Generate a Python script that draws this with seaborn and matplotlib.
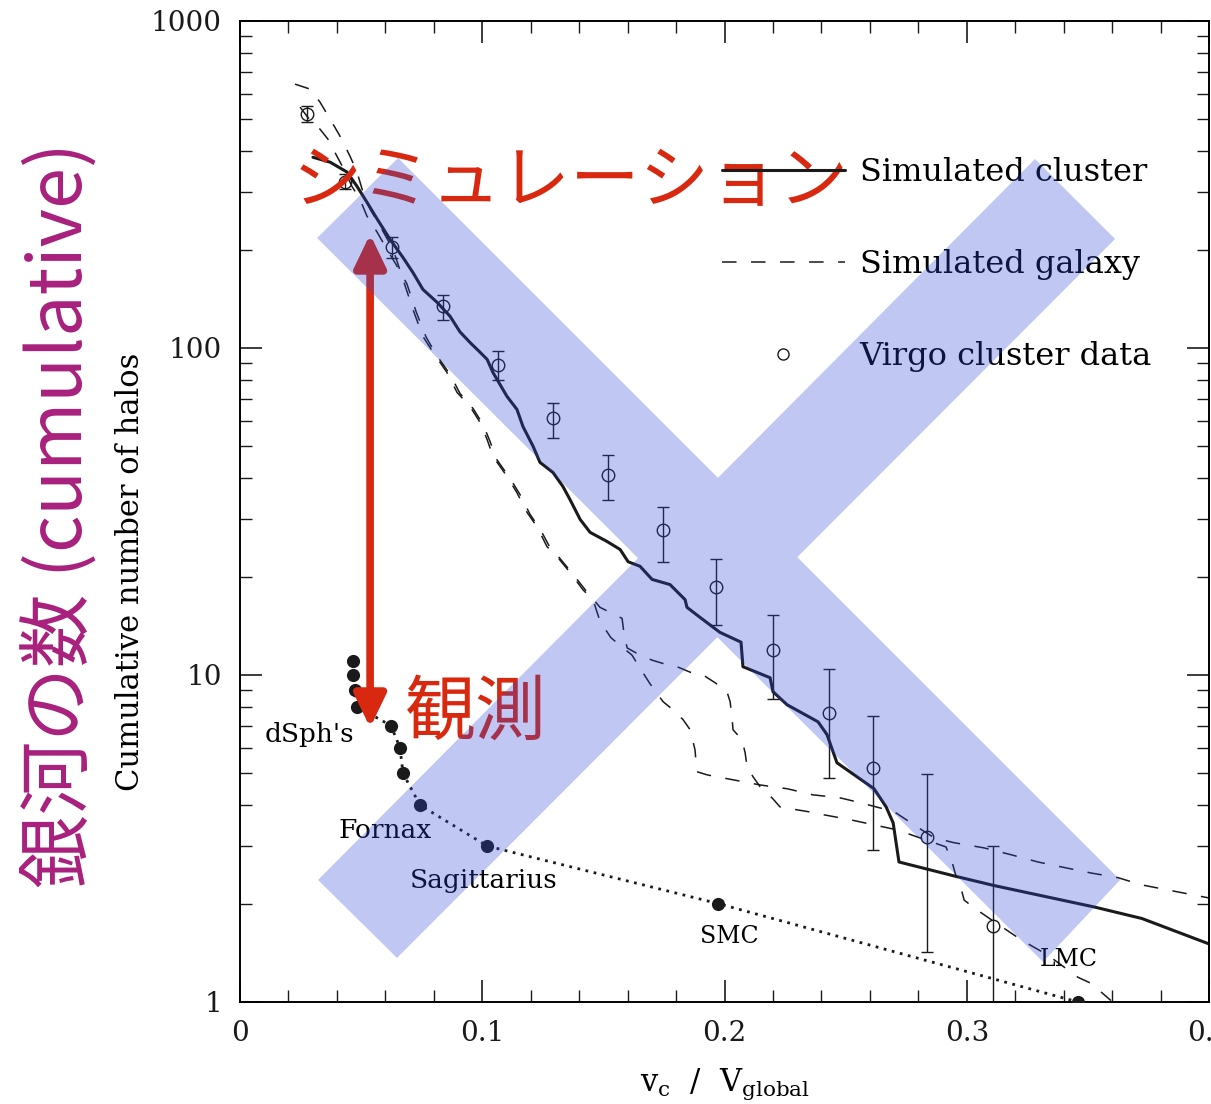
import matplotlib
matplotlib.use("Agg")
import matplotlib.pyplot as plt
import seaborn as sns
from matplotlib.lines import Line2D
from matplotlib.path import Path
from matplotlib.patches import PathPatch
from matplotlib.ticker import LogLocator, MultipleLocator, NullFormatter

# simulated cluster (solid curve), x = v_c / V_global, n = cumulative number
cluster_x = [0.0301, 0.0372, 0.0442, 0.0483, 0.0524, 0.0566, 0.0619, 0.0673, 0.0714, 0.0755,
             0.0813, 0.0867, 0.0908, 0.0949, 0.0991, 0.1020, 0.1044, 0.1102, 0.1143, 0.1168,
             0.1210, 0.1238, 0.1292, 0.1333, 0.1362, 0.1404, 0.1445, 0.1515, 0.1569, 0.1602,
             0.1651, 0.1701, 0.1775, 0.1837, 0.1845, 0.1899, 0.1981, 0.2068, 0.2076, 0.2188,
             0.2200, 0.2258, 0.2386, 0.2423, 0.2464, 0.2617, 0.2667, 0.2696, 0.2720, 0.2947,
             0.3113, 0.3529, 0.3723, 0.40]
cluster_n = [383, 370, 345, 312, 279, 248, 215, 189, 170, 151,
             138, 125, 112, 104, 97, 92.3, 84.2, 71.1, 64.9, 57.5,
             50.0, 44.7, 41.6, 37.7, 34.4, 29.9, 27.3, 25.6, 24.2, 22.2,
             21.5, 19.6, 18.9, 17.0, 16.1, 15.0, 13.5, 12.6, 10.6, 9.81,
             8.89, 8.11, 7.19, 6.57, 5.39, 4.49, 3.95, 3.53, 2.68, 2.43,
             2.27, 1.95, 1.80, 1.505]

# simulated galaxies (dashed curves)
galaxy1_x = [0.0227, 0.0289, 0.0330, 0.0372, 0.0413, 0.0454, 0.0483, 0.0508, 0.0537, 0.0578,
             0.0632, 0.0673, 0.0714, 0.0755, 0.0797, 0.0854, 0.0896, 0.0949, 0.0991, 0.1020,
             0.1044, 0.1102, 0.1143, 0.1185, 0.1226, 0.1267, 0.1309, 0.1362, 0.1416, 0.1457,
             0.1486, 0.1531, 0.1618, 0.1651, 0.1692, 0.1746, 0.1787, 0.1829, 0.1858, 0.1878,
             0.1886, 0.1928, 0.2035, 0.2147, 0.2258, 0.2365, 0.2477, 0.2559, 0.2700, 0.2795,
             0.2865, 0.2947, 0.3071, 0.3183, 0.3294, 0.3389, 0.3513, 0.3624, 0.3723, 0.3831, 0.40]
galaxy1_n = [641, 619, 565, 501, 444, 386, 345, 299, 266, 236,
             200, 162, 131, 108.5, 97.0, 84.2, 73.1, 66.3, 59.2, 52.5,
             46.6, 40.5, 36.1, 31.4, 28.4, 24.7, 23.0, 20.6, 18.2, 17.0,
             14.6, 13.0, 11.5, 10.5, 9.41, 8.29, 7.83, 7.30, 6.80, 5.91,
             5.06, 4.95, 4.78, 4.61, 4.49, 4.30, 4.21, 4.07, 3.82, 3.43,
             3.18, 3.07, 2.96, 2.82, 2.68, 2.59, 2.48, 2.40, 2.28, 2.20, 2.08]

galaxy2_x = [0.0248, 0.0301, 0.0330, 0.0363, 0.0400, 0.0433, 0.0462, 0.0495, 0.0524, 0.0566,
             0.0607, 0.0648, 0.0689, 0.0727, 0.0768, 0.0809, 0.0867, 0.0908, 0.0962, 0.1003,
             0.1032, 0.1057, 0.1115, 0.1156, 0.1197, 0.1238, 0.1280, 0.1321, 0.1375, 0.1428,
             0.1465, 0.1486, 0.1577, 0.1585, 0.1598, 0.1651, 0.1701, 0.1754, 0.1804, 0.1858,
             0.1911, 0.1961, 0.2010, 0.2023, 0.2031, 0.2035, 0.2072, 0.2085, 0.2093, 0.2118,
             0.2147, 0.2196, 0.2229, 0.2299, 0.2345, 0.2407, 0.2518, 0.2617, 0.2712, 0.2914,
             0.2939, 0.2960, 0.2976, 0.2989, 0.3030, 0.3113, 0.3224, 0.3335, 0.3459, 0.3513, 0.3595]
galaxy2_n = [545, 484, 467, 435, 386, 347, 312, 285, 253, 226,
             200, 178, 157, 129, 108, 95.6, 83.0, 72.6, 65.3, 58.4,
             51.8, 45.9, 39.9, 35.6, 31.0, 28.0, 24.5, 22.7, 20.3, 18.1,
             16.8, 16.1, 14.9, 13.4, 12.1, 11.5, 11.1, 10.8, 10.6, 10.2,
             10.0, 9.47, 8.89, 8.29, 7.40, 6.80, 6.34, 5.78, 5.24, 4.88,
             4.55, 4.21, 3.95, 3.87, 3.82, 3.74, 3.61, 3.48, 3.36, 2.98,
             2.68, 2.36, 2.23, 2.05, 1.94, 1.76, 1.55, 1.39, 1.19, 1.14, 1.01]

# Virgo cluster data with error bars
virgo_x = [0.0277, 0.0433, 0.0627, 0.0838, 0.1065, 0.1292, 0.1519,
           0.1746, 0.1965, 0.2200, 0.2431, 0.2613, 0.2836, 0.3108]
virgo_n = [519, 321, 203, 134, 89, 61, 41, 27.7, 18.6, 11.9, 7.67, 5.2, 3.2, 1.71]
virgo_lo = [490, 306, 189, 122, 79.6, 52.9, 34.4, 22.2, 14.2, 8.46, 4.85, 2.92, 1.42, 0.5]
virgo_hi = [550, 340, 218, 145, 98, 68, 47.2, 32.7, 22.7, 15.3, 10.4, 7.5, 4.99, 3.0]

# Local Group satellites (observed)
dwarf_x = [0.0466, 0.0466, 0.0475, 0.0483, 0.0623, 0.0660, 0.0673, 0.0743, 0.1020, 0.1973, 0.3459]
dwarf_n = [11, 10, 9, 8, 7, 6, 5, 4, 3, 2, 1]

RED = "#D92810"
PURPLE = "#A8207C"
BAND = (45 / 255, 72 / 255, 212 / 255, 0.30)
CJK = ["Noto Sans CJK JP", "DejaVu Sans"]

sns.set_theme(style="ticks")
plt.rcParams["font.family"] = ["DejaVu Serif", "Noto Sans CJK JP"]
plt.rcParams["mathtext.fontset"] = "dejavuserif"
plt.rcParams["axes.linewidth"] = 1.4
for key in ["text.color", "axes.labelcolor", "xtick.color", "ytick.color", "axes.edgecolor"]:
    plt.rcParams[key] = "black"

fig = plt.figure(figsize=(12.11, 11.04), dpi=100)
ax = fig.add_axes([0.1982, 0.0924, 0.8002, 0.8886])
ax.set_yscale("log")

# curves
sns.lineplot(x=cluster_x, y=cluster_n, ax=ax, color="k", lw=2.2,
             estimator=None, sort=False)
for gx, gn in [(galaxy1_x, galaxy1_n), (galaxy2_x, galaxy2_n)]:
    sns.lineplot(x=gx, y=gn, ax=ax, color="k", lw=1.1, linestyle=(0, (9.5, 9.5)),
                 estimator=None, sort=False)

# observed dwarfs
sns.lineplot(x=dwarf_x, y=dwarf_n, ax=ax, color="k", lw=2.0, linestyle=(0, (1, 2)),
             estimator=None, sort=False)
sns.scatterplot(x=dwarf_x, y=dwarf_n, ax=ax, color="k", s=90, linewidth=0, zorder=3)

# Virgo points
yerr = [[n - lo for n, lo in zip(virgo_n, virgo_lo)],
        [hi - n for n, hi in zip(virgo_n, virgo_hi)]]
ax.errorbar(virgo_x, virgo_n, yerr=yerr, fmt="o", ms=9, mfc="none", mec="k", mew=1.0,
            ecolor="k", elinewidth=1.0, capsize=4.5, capthick=1.0, zorder=3)

# names
ax.text(0.0103, 6.57, "dSph's", fontsize=19, va="center", ha="left")
ax.text(0.0405, 3.34, "Fornax", fontsize=19, va="center", ha="left")
ax.text(0.0702, 2.36, "Sagittarius", fontsize=19, va="center", ha="left")
ax.text(0.1899, 1.59, "SMC", fontsize=17, va="center", ha="left")
ax.text(0.3302, 1.345, "LMC", fontsize=17, va="center", ha="left")

# axes
ax.set_xlim(0, 0.4)
ax.set_ylim(1, 1000)
ax.set_xticks([0, 0.1, 0.2, 0.3, 0.4], labels=["0", "0.1", "0.2", "0.3", "0.4"])
ax.set_yticks([1, 10, 100, 1000], labels=["1", "10", "100", "1000"])
ax.xaxis.set_minor_locator(MultipleLocator(0.02))
ax.yaxis.set_minor_locator(LogLocator(base=10, subs=range(2, 10)))
ax.yaxis.set_minor_formatter(NullFormatter())
ax.tick_params(which="major", direction="in", length=16, width=1.2, top=True, right=True,
               labelsize=20, pad=13, colors="k")
ax.tick_params(which="minor", direction="in", length=8.5, width=1.0, top=True, right=True,
               colors="k")

ax.set_xlabel(r"$\mathrm{v_c}$  /  $\mathrm{V_{global}}$", fontsize=22, va="top")
ax.xaxis.set_label_coords(0.5, -0.066)
ax.set_ylabel("Cumulative number of halos", fontsize=22)
ax.yaxis.set_label_coords(-0.097, 0.438)

# legend
handles = [Line2D([], [], color="k", lw=2.2),
           Line2D([], [], color="k", lw=1.1, linestyle=(0, (9.5, 9.5))),
           Line2D([], [], ls="none", marker="o", ms=8, mfc="none", mec="k", mew=1.0)]
leg = ax.legend(handles, ["Simulated cluster", "Simulated galaxy", "Virgo cluster data"],
                loc="upper left", bbox_to_anchor=(0.497, 0.861), frameon=False,
                fontsize=23, handlelength=3.85, handletextpad=0.47, labelspacing=1.9,
                borderpad=0, borderaxespad=0)
leg.set_zorder(5)

# Japanese annotations
ax.text(0.0547, 0.836, "シミュレーション", transform=ax.transAxes, fontsize=50, color=RED,
        family=CJK, ha="left", va="center", zorder=4)
ax.text(0.170, 0.2946, "観測", transform=ax.transAxes, fontsize=51, color=RED,
        family=CJK, ha="left", va="center", zorder=4)
ax.annotate("", xy=(0.0537, 222.7), xytext=(0.0537, 6.9),
            arrowprops=dict(arrowstyle="<|-|>,head_length=0.5,head_width=0.24",
                            mutation_scale=40, lw=5.5, color=RED, shrinkA=0, shrinkB=0),
            zorder=4)
fig.text(0.0495, 0.5335, "銀河の数 (cumulative)", rotation=90, fontsize=53, color=PURPLE,
         family=CJK, ha="center", va="center")

# translucent cross over the plot
band_a = [(0.0795, 0.7788), (0.1631, 0.8603), (0.9082, 0.1244), (0.8287, 0.0408)]
band_b = [(0.8204, 0.8593), (0.9030, 0.7778), (0.1620, 0.0449), (0.0805, 0.1244)]
verts = band_a + [band_a[0]] + band_b + [band_b[0]]
codes = ([Path.MOVETO] + [Path.LINETO] * 3 + [Path.CLOSEPOLY]) * 2
ax.add_patch(PathPatch(Path(verts, codes), transform=ax.transAxes, facecolor=BAND,
                       edgecolor="none", zorder=10))

fig.savefig("out.png", dpi=100)
